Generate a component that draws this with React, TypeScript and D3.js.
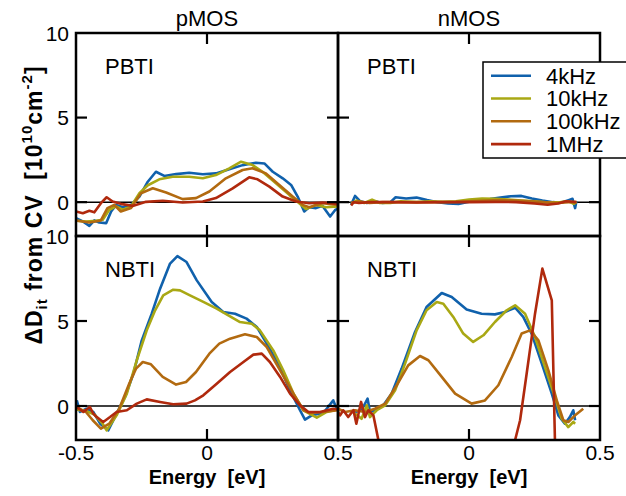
import React from 'react';
import * as d3 from 'd3';

type Pt = [number, number];

const frequencies = ['4kHz', '10kHz', '100kHz', '1MHz'];
const colors = ['#1061ac', '#a9a814', '#b26a10', '#b0290d'];
const columnTitles = ['pMOS', 'nMOS'];
const rowLabels = ['PBTI', 'NBTI'];
const xTicks = [-0.5, 0, 0.5];
const yTicks = [0, 5, 10];

// pMOS PBTI
const pPBTI_4k: Pt[] = [[-0.5,-0.94],[-0.474,-1.14],[-0.449,-1.4],[-0.43,-1.08],[-0.411,-1.2],[-0.385,-1.24],[-0.366,-0.55],[-0.347,-0.16],[-0.322,-0.3],[-0.29,-0.16],[-0.258,0.33],[-0.226,1.21],[-0.195,1.8],[-0.163,1.55],[-0.118,1.66],[-0.068,1.74],[-0.016,1.65],[0.034,1.7],[0.085,1.94],[0.136,2.19],[0.187,2.33],[0.219,2.29],[0.251,1.8],[0.289,1.41],[0.321,1.02],[0.346,0.33],[0.371,-0.55],[0.39,-0.3],[0.416,-0.35],[0.441,-0.22],[0.47,-0.85],[0.49,-0.45],[0.5,-0.4]];
const pPBTI_10k: Pt[] = [[-0.5,-1.1],[-0.462,-1.14],[-0.424,-1.1],[-0.398,-1.04],[-0.373,-0.45],[-0.347,-0.25],[-0.322,-0.45],[-0.29,-0.25],[-0.258,0.53],[-0.226,1.0],[-0.182,1.35],[-0.131,1.5],[-0.068,1.5],[-0.016,1.41],[0.034,1.6],[0.085,2.0],[0.13,2.39],[0.174,2.19],[0.212,1.8],[0.263,1.12],[0.314,0.43],[0.352,-0.06],[0.378,-0.41],[0.416,-0.16],[0.454,-0.3],[0.5,-0.25]];
const pPBTI_100k: Pt[] = [[-0.5,-1.08],[-0.449,-1.2],[-0.405,-1.08],[-0.38,-0.35],[-0.354,-0.16],[-0.329,-0.55],[-0.29,-0.35],[-0.252,0.53],[-0.207,0.82],[-0.156,0.57],[-0.093,0.18],[-0.042,0.24],[0.009,0.63],[0.072,1.41],[0.136,1.9],[0.174,2.0],[0.225,1.7],[0.276,1.02],[0.327,0.33],[0.365,-0.16],[0.39,-0.3],[0.441,-0.06],[0.5,-0.16]];
const pPBTI_1M: Pt[] = [[-0.5,-0.55],[-0.474,-0.65],[-0.449,-0.51],[-0.43,-0.6],[-0.405,-0.06],[-0.383,0.29],[-0.36,0.04],[-0.329,-0.1],[-0.284,-0.22],[-0.233,0.02],[-0.169,0.08],[-0.093,-0.02],[-0.016,0.04],[0.034,0.24],[0.098,0.82],[0.161,1.47],[0.193,1.35],[0.238,0.92],[0.289,0.33],[0.34,0.04],[0.39,-0.06],[0.441,-0.02],[0.5,-0.1]];

// nMOS PBTI
const nPBTI_4k: Pt[] = [[-0.45,-0.15],[-0.435,0.37],[-0.415,0.05],[-0.39,-0.05],[-0.36,0.05],[-0.33,-0.05],[-0.3,0.0],[-0.28,0.29],[-0.24,0.22],[-0.2,0.27],[-0.16,0.12],[-0.12,0.0],[-0.08,-0.08],[-0.04,-0.1],[0.0,0.02],[0.04,0.1],[0.08,0.18],[0.12,0.28],[0.16,0.35],[0.2,0.37],[0.24,0.22],[0.28,0.1],[0.32,0.0],[0.35,-0.03],[0.38,0.12],[0.395,0.2],[0.405,-0.35],[0.41,0.05]];
const nPBTI_10k: Pt[] = [[-0.45,-0.1],[-0.43,0.1],[-0.4,-0.05],[-0.37,0.15],[-0.34,-0.05],[-0.3,-0.05],[-0.26,0.05],[-0.2,0.0],[-0.15,0.05],[-0.1,0.02],[-0.05,0.05],[0.0,0.15],[0.05,0.22],[0.1,0.2],[0.15,0.15],[0.2,0.1],[0.25,0.05],[0.3,-0.02],[0.35,0.0],[0.38,0.05],[0.4,-0.1],[0.41,0.0]];
const nPBTI_100k: Pt[] = [[-0.45,-0.05],[-0.42,0.05],[-0.38,-0.05],[-0.33,0.0],[-0.25,0.0],[-0.15,0.0],[-0.05,0.02],[0.05,0.08],[0.12,0.12],[0.2,0.08],[0.28,0.0],[0.34,-0.05],[0.38,0.0],[0.41,0.0]];
const nPBTI_1M: Pt[] = [[-0.45,-0.2],[-0.44,0.0],[-0.42,-0.05],[-0.38,0.0],[-0.3,0.0],[-0.2,-0.02],[-0.1,0.0],[0.0,0.0],[0.1,0.02],[0.18,0.0],[0.25,-0.08],[0.3,-0.15],[0.34,-0.08],[0.37,0.05],[0.41,0.0]];

// pMOS NBTI
const pNBTI_4k: Pt[] = [[-0.497,0.34],[-0.485,-0.35],[-0.46,-0.16],[-0.434,-0.35],[-0.408,-1.04],[-0.377,-1.43],[-0.345,-0.45],[-0.313,0.53],[-0.281,1.9],[-0.249,3.86],[-0.211,5.43],[-0.179,6.9],[-0.141,8.38],[-0.113,8.82],[-0.078,8.47],[-0.039,7.39],[0.018,6.12],[0.062,5.53],[0.107,5.43],[0.151,5.14],[0.19,4.65],[0.228,3.67],[0.272,2.49],[0.317,0.92],[0.355,-0.25],[0.374,-0.8],[0.4,-0.55],[0.444,-0.41],[0.482,0.33],[0.495,-0.16]];
const pNBTI_10k: Pt[] = [[-0.5,-0.2],[-0.46,-0.3],[-0.43,-0.5],[-0.4,-1.0],[-0.383,-1.43],[-0.345,-0.55],[-0.306,0.73],[-0.268,2.69],[-0.23,4.45],[-0.198,5.63],[-0.167,6.51],[-0.129,6.84],[-0.103,6.8],[-0.065,6.51],[-0.014,6.12],[0.037,5.73],[0.088,5.27],[0.126,4.94],[0.171,4.84],[0.202,4.45],[0.253,3.27],[0.291,2.1],[0.33,0.73],[0.368,-0.25],[0.419,-0.69],[0.457,-0.35],[0.5,-0.2]];
const pNBTI_100k: Pt[] = [[-0.5,-0.06],[-0.462,-0.35],[-0.436,-0.84],[-0.405,-1.33],[-0.373,-1.04],[-0.335,-0.16],[-0.297,1.31],[-0.271,2.2],[-0.245,2.59],[-0.214,2.45],[-0.169,1.71],[-0.118,1.26],[-0.08,1.41],[-0.042,2.0],[0.009,3.08],[0.047,3.67],[0.088,3.96],[0.145,4.22],[0.19,4.06],[0.228,3.47],[0.279,2.1],[0.33,0.73],[0.368,-0.25],[0.393,-0.41],[0.444,-0.35],[0.5,-0.25]];
const pNBTI_1M: Pt[] = [[-0.497,-0.06],[-0.472,-0.35],[-0.447,-0.06],[-0.434,-0.45],[-0.421,-0.65],[-0.396,-0.94],[-0.37,-0.65],[-0.345,-0.35],[-0.306,-0.25],[-0.268,0.14],[-0.23,0.39],[-0.179,0.24],[-0.129,0.1],[-0.078,0.14],[-0.046,0.33],[-0.014,0.63],[0.037,1.31],[0.088,2.0],[0.139,2.59],[0.177,3.02],[0.209,3.08],[0.24,2.59],[0.279,1.71],[0.317,0.73],[0.355,0.04],[0.387,-0.35],[0.431,-0.35],[0.482,-0.16],[0.5,-0.2]];

// nMOS NBTI
const nNBTI_4k: Pt[] = [[-0.435,-0.35],[-0.41,-0.25],[-0.387,0.43],[-0.378,-0.35],[-0.359,-0.25],[-0.327,0.04],[-0.295,0.73],[-0.257,2.2],[-0.206,4.35],[-0.162,5.82],[-0.104,6.65],[-0.066,6.41],[-0.009,5.67],[0.048,5.43],[0.099,5.39],[0.137,5.53],[0.176,5.78],[0.207,5.24],[0.239,4.26],[0.278,2.49],[0.316,0.73],[0.341,-0.55],[0.366,-1.04],[0.385,-0.65],[0.398,-0.25],[0.405,-0.84]];
const nNBTI_10k: Pt[] = [[-0.435,-0.45],[-0.41,-0.75],[-0.39,0.04],[-0.378,-0.65],[-0.352,-0.25],[-0.32,0.04],[-0.282,0.92],[-0.244,2.49],[-0.2,4.45],[-0.162,5.63],[-0.123,6.12],[-0.098,6.02],[-0.06,5.24],[-0.022,4.26],[0.016,3.77],[0.055,4.16],[0.099,4.94],[0.144,5.63],[0.176,5.92],[0.214,5.43],[0.252,4.06],[0.29,2.29],[0.328,0.53],[0.354,-0.75],[0.379,-1.24],[0.398,-0.94],[0.405,-1.04]];
const nNBTI_100k: Pt[] = [[-0.5,-0.16],[-0.473,-0.35],[-0.435,-0.25],[-0.397,-0.35],[-0.359,-0.16],[-0.32,0.14],[-0.276,1.22],[-0.232,2.39],[-0.187,2.94],[-0.155,2.69],[-0.104,1.71],[-0.053,0.73],[0.01,0.14],[0.061,0.33],[0.112,1.22],[0.163,2.88],[0.201,4.26],[0.233,4.45],[0.265,3.86],[0.303,2.1],[0.335,0.33],[0.36,-0.84],[0.379,-0.94],[0.405,-0.55],[0.436,-0.16]];
const nNBTI_1M: Pt[] = [[-0.5,-0.35],[-0.492,-0.55],[-0.48,-0.25],[-0.461,-0.65],[-0.441,-0.25],[-0.43,-1.04],[-0.412,0.24],[-0.397,-0.65],[-0.384,-0.25],[-0.365,-0.55],[-0.33,-3.2],[0.16,-3.0],[0.176,-2.0],[0.195,-0.84],[0.22,1.9],[0.252,5.43],[0.28,8.08],[0.316,6.22],[0.328,-2.0],[0.336,-4.0]];

const panels = [
  { col: 0, row: 0, series: [pPBTI_4k, pPBTI_10k, pPBTI_100k, pPBTI_1M] },
  { col: 1, row: 0, series: [nPBTI_4k, nPBTI_10k, nPBTI_100k, nPBTI_1M] },
  { col: 0, row: 1, series: [pNBTI_4k, pNBTI_10k, pNBTI_100k, pNBTI_1M] },
  { col: 1, row: 1, series: [nNBTI_4k, nNBTI_10k, nNBTI_100k, nNBTI_1M] },
];

const W = 626, H = 496;
const colX = [76, 338, 600];
const rowY = [33, 236, 440];
const FONT = '"Liberation Sans", Arial, Helvetica, sans-serif';
const TICK = 11;

export default function App() {
  React.useEffect(() => { document.body.style.margin = '0'; }, []);
  return (
    <svg width={W} height={H} style={{ position: 'absolute', left: 0, top: 0, background: '#fff' }} fontFamily={FONT}>
      <defs>
        {panels.map((p, i) => (
          <clipPath id={`clip${i}`} key={i}>
            <rect x={colX[p.col]} y={rowY[p.row]} width={colX[p.col + 1] - colX[p.col]} height={rowY[p.row + 1] - rowY[p.row]} />
          </clipPath>
        ))}
      </defs>
      {panels.map((p, i) => {
        const x = d3.scaleLinear().domain([-0.5, 0.5]).range([colX[p.col], colX[p.col + 1]]);
        const y = d3.scaleLinear().domain([-2, 10]).range([rowY[p.row + 1], rowY[p.row]]);
        const line = d3.line<Pt>().x(d => x(d[0])).y(d => y(d[1]));
        const [x0, x1] = x.range();
        const [y0, y1] = y.range();
        return (
          <g key={i}>
            <line x1={x0} x2={x1} y1={y(0)} y2={y(0)} stroke="#000" strokeWidth={1.5} />
            <g clipPath={`url(#clip${i})`}>
              {p.series.map((s, k) => (
                <path key={k} d={line(s) || ''} fill="none" stroke={colors[k]} strokeWidth={2.6} strokeLinejoin="round" />
              ))}
            </g>
            {[0].map(t => (
              <g key={'xt' + t}>
                <line x1={x(t)} x2={x(t)} y1={y1} y2={y1 + TICK} stroke="#000" strokeWidth={2.2} />
                <line x1={x(t)} x2={x(t)} y1={y0} y2={y0 - TICK} stroke="#000" strokeWidth={2.2} />
              </g>
            ))}
            {[0, 5].map(t => (
              <g key={'yt' + t}>
                <line x1={x0} x2={x0 + TICK} y1={y(t)} y2={y(t)} stroke="#000" strokeWidth={2.2} />
                <line x1={x1} x2={x1 - TICK} y1={y(t)} y2={y(t)} stroke="#000" strokeWidth={2.2} />
              </g>
            ))}
            <rect x={x0} y={y1} width={x1 - x0} height={y0 - y1} fill="none" stroke="#000" strokeWidth={2.5} />
            <text x={x0 + 29} y={y1 + 41} fontSize={22}>{rowLabels[p.row]}</text>
            {p.col === 0 && yTicks.map(t => (
              <text key={t} x={x0 - 7} y={y(t)} dy="0.36em" textAnchor="end" fontSize={21}>{t}</text>
            ))}
            {p.row === 1 && xTicks.filter(t => p.col === 0 || t > -0.5).map(t => (
              <text key={t} x={x(t)} y={rowY[2] + 20} textAnchor="middle" fontSize={21}>{t}</text>
            ))}
            {p.row === 1 && (
              <text x={x(0)} y={rowY[2] + 44} textAnchor="middle" fontSize={20} fontWeight="bold" style={{ whiteSpace: 'pre' }}>Energy  [eV]</text>
            )}
            {p.row === 0 && (
              <text x={x(0)} y={rowY[0] - 7} textAnchor="middle" fontSize={22}>{columnTitles[p.col]}</text>
            )}
          </g>
        );
      })}
      <g>
        <rect x={483} y={62} width={160} height={96} fill="#fff" stroke="#000" strokeWidth={1.5} />
        {frequencies.map((f, k) => {
          const ly = 75.7 + k * 22.8;
          return (
            <g key={f}>
              <line x1={491} x2={531} y1={ly} y2={ly} stroke={colors[k]} strokeWidth={2.6} />
              <text x={546} y={ly} dy="0.36em" fontSize={22}>{f}</text>
            </g>
          );
        })}
      </g>
      <text transform="translate(42,205) rotate(-90)" textAnchor="middle" fontSize={23} fontWeight="bold"
        letterSpacing={1} style={{ whiteSpace: 'pre' }}>
        <tspan>ΔD</tspan>
        <tspan dy={5} fontSize={15}>it</tspan>
        <tspan dy={-5}> from CV  [10</tspan>
        <tspan dy={-10} fontSize={15}>10</tspan>
        <tspan dy={10}>cm</tspan>
        <tspan dy={-10} fontSize={15}>-2</tspan>
        <tspan dy={10}>]</tspan>
      </text>
    </svg>
  );
}
